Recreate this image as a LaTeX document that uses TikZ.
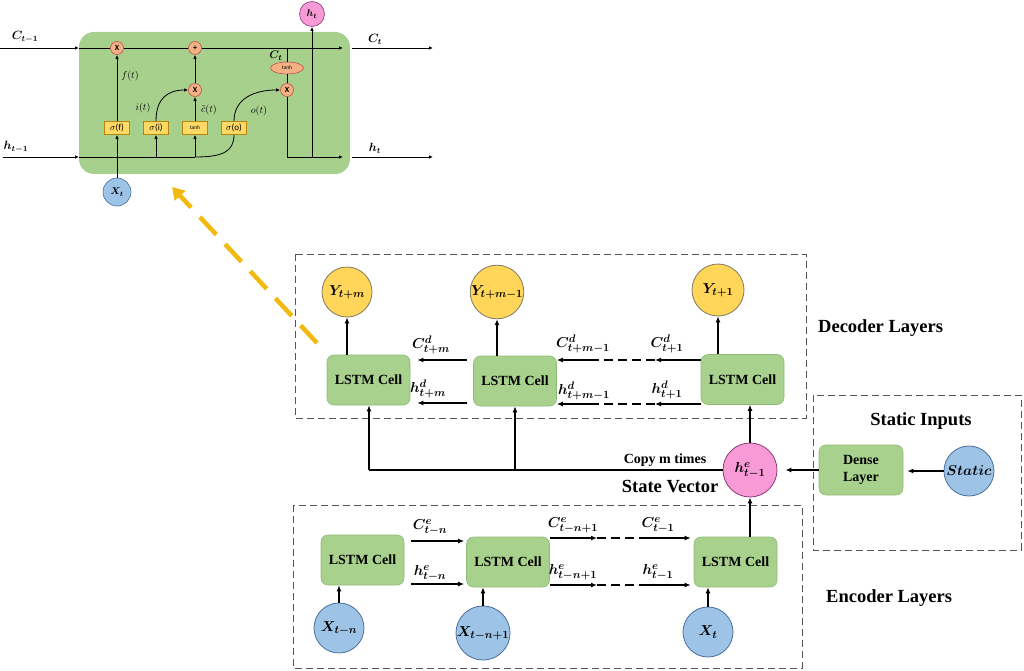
\documentclass[tikz,border=0pt]{standalone}
\usepackage{fontspec}
\usepackage{amsmath,bm}
\setmainfont{Liberation Serif}
\newfontfamily\calfont{Carlito}
\usetikzlibrary{arrows.meta,calc,shapes.geometric}
\definecolor{cellgreen}{HTML}{A9D18E}
\definecolor{cellborder}{HTML}{8DBA72}
\definecolor{topgreen}{HTML}{A8D08D}
\definecolor{yelfill}{HTML}{FFD55A}
\definecolor{yelborder}{HTML}{7F7A5E}
\definecolor{blufill}{HTML}{9DC3E6}
\definecolor{bluborder}{HTML}{4A6F9C}
\definecolor{pinkfill}{HTML}{F79AD6}
\definecolor{pinkborder}{HTML}{8B3A7A}
\definecolor{opfill}{HTML}{F4B183}
\definecolor{opborder}{HTML}{C0504D}
\definecolor{gatefill}{HTML}{FFD966}
\definecolor{gateborder}{HTML}{B8860B}
\definecolor{arrowyel}{HTML}{F2B90F}
\definecolor{dashgray}{HTML}{555555}
\tikzset{
  cell/.style={rounded corners=7pt, fill=cellgreen, draw=cellborder, line width=0.6pt,
    minimum width=83pt, minimum height=50pt, inner sep=0pt,
    font=\fontsize{14}{16}\selectfont\bfseries},
  ycirc/.style={circle, fill=yelfill, draw=yelborder, line width=0.8pt, minimum size=50pt, inner sep=0pt,
    font=\fontsize{15.5}{18}\selectfont},
  bcirc/.style={circle, fill=blufill, draw=bluborder, line width=0.8pt, minimum size=50pt, inner sep=0pt,
    font=\fontsize{15.5}{18}\selectfont},
  pcirc/.style={circle, fill=pinkfill, draw=pinkborder, line width=0.8pt, minimum size=54pt, inner sep=0pt,
    font=\fontsize{15.5}{18}\selectfont},
  arr/.style={-{Latex[length=6pt,width=5pt]}, line width=1.2pt},
  plain/.style={line width=1.2pt},
  dashln/.style={line width=1.2pt, dash pattern=on 9pt off 5pt},
  dbox/.style={draw=dashgray, line width=1pt, dash pattern=on 7pt off 4pt},
  mlabel/.style={font=\fontsize{15}{18}\selectfont, inner sep=0pt},
  title/.style={font=\fontsize{18.5}{22}\selectfont\bfseries, inner sep=0pt},
  topbox/.style={rounded corners=15pt, fill=topgreen, draw=none, minimum width=271pt, minimum height=142pt},
  op/.style={circle, fill=opfill, draw=opborder, line width=0.6pt, minimum size=13pt, inner sep=0pt,
    font=\calfont\fontsize{8}{9}\selectfont\bfseries},
  gate/.style={fill=gatefill, draw=gateborder, line width=0.6pt, minimum width=25pt, minimum height=13pt, inner sep=0pt,
    font=\calfont\fontsize{9}{10}\selectfont},
  tarr/.style={-{Latex[length=4pt,width=3.5pt]}, line width=0.8pt},
  tln/.style={line width=0.8pt},
  slabel/.style={font=\fontsize{12}{14}\selectfont, inner sep=0pt},
  glabel/.style={font=\fontsize{10}{12}\selectfont, inner sep=0pt},
}
\begin{document}
\begin{tikzpicture}[x=1pt,y=-1pt]
\useasboundingbox (0,0) rectangle (1024,671);

% ---------------- top LSTM cell detail ----------------
\node[topbox] (cellbox) at (214.5,103) {};
\node[op] (mx1) at (117,48) {X};
\node[op] (pl) at (195,48) {+};
\node[op] (mx2) at (195,90) {X};
\node[op] (mx3) at (287,90) {X};
\node[ellipse, fill=opfill, draw=opborder, line width=0.6pt, minimum width=33pt, minimum height=12pt, inner sep=0pt,
      font=\calfont\fontsize{5.5}{6}\selectfont] (th2) at (287,68) {tanh};
\node[gate] (gf) at (117,128) {$\sigma$(f)};
\node[gate] (gi) at (156,128) {$\sigma$(i)};
\node[gate, font=\calfont\fontsize{5.5}{6}\selectfont] (gc) at (195,128) {tanh};
\node[gate] (go) at (234,128) {$\sigma$(o)};
\node[circle, fill=blufill, draw=bluborder, line width=0.6pt, minimum size=28pt, inner sep=0pt,
      font=\fontsize{10}{11}\selectfont] (xt) at (117,192) {$\bm{X_t}$};
\node[circle, fill=pinkfill, draw=pinkborder, line width=0.6pt, minimum size=25pt, inner sep=0pt,
      font=\fontsize{10}{11}\selectfont] (ht) at (312,14) {$\bm{h_t}$};

\coordinate (cin) at (0,48);
\coordinate (cbox) at (79,48);
\coordinate (cout) at (343,48);
\coordinate (cn0) at (352,48);
\coordinate (cn1) at (433,48);
\coordinate (hin) at (3,157);
\coordinate (hbox) at (79,157);
\coordinate (hend) at (195,157);
\coordinate (hout) at (343,157);
\coordinate (hn0) at (352,157);
\coordinate (hn1) at (433,157);
\coordinate (ctap) at (287,48);
\coordinate (hcorner) at (287,157);
\coordinate (htap) at (312,157);

\draw[tarr] (cin) -- (cbox);
\draw[tln] (cbox) -- (mx1.west);
\draw[tln] (mx1.east) -- (pl.west);
\draw[tarr] (pl.east) -- (cout);
\draw[tarr] (cn0) -- (cn1);
\draw[tarr] (hin) -- (hbox);
\draw[tln] (hbox) -- (hend);
\draw[tln] (hend) .. controls (222,157) and (234,152) .. (go.south);
\draw[tarr] (hn0) -- (hn1);

\draw[tarr] (xt.north) -- (gf.south);
\draw[tarr] (gf.north) -- (mx1.south);
\draw[tarr] (gi.south |- hbox) -- (gi.south);
\draw[tarr] (gi.north) .. controls (156,98) and (168,90) .. (mx2.west);
\draw[tarr] (gc.south |- hbox) -- (gc.south);
\draw[tarr] (gc.north) -- (mx2.south);
\draw[tarr] (mx2.north) -- (pl.south);
\draw[tarr] (go.north) .. controls (234,98) and (255,90) .. (mx3.west);
\draw[tln] (ctap) -- (th2.north);
\draw[tln] (th2.south) -- (mx3.north);
\draw[tln] (mx3.south) -- (hcorner);
\draw[tarr] (hcorner) -- (hout);
\draw[tarr] (htap) -- (ht.south);

\node[slabel] at (25,37) {$\bm{C_{t-1}}$};
\node[slabel] at (16,147) {$\bm{h_{t-1}}$};
\node[slabel] at (375,39) {$\bm{C_t}$};
\node[slabel] at (375,148) {$\bm{h_t}$};
\node[slabel, font=\fontsize{11}{12}\selectfont] at (276,56) {$\bm{C_t}$};
\node[glabel] at (130,76) {$f(t)$};
\node[glabel] at (143,108) {$i(t)$};
\node[glabel] at (209,110) {$\tilde{c}(t)$};
\node[glabel] at (259,111) {$o(t)$};

% yellow dashed pointer
\coordinate (yp0) at (317,343);
\coordinate (yp1) at (172,187);
\draw[arrowyel, line width=4.5pt, dash pattern=on 24pt off 13pt,
      -{Triangle[length=12pt,width=14pt]}] (yp0) -- (yp1);

% ---------------- decoder ----------------
\draw[dbox] (295,254) rectangle (806,418);
\node[title, anchor=west] at (818,328) {Decoder Layers};

\node[cell] (dc1) at (368.5,380) {LSTM Cell};
\node[cell] (dc2) at (515,381) {LSTM Cell};
\node[cell] (dc3) at (742.5,379.5) {LSTM Cell};
\node[ycirc] (dy1) at (347,292) {$\bm{Y_{t+m}}$};
\node[ycirc] (dy2) at (497,292) {$\bm{Y_{t+m-1}}$};
\node[ycirc, minimum size=52pt] (dy3) at (718,290) {$\bm{Y_{t+1}}$};

\draw[arr] (dy1.south |- dc1.north) -- (dy1.south);
\draw[arr] (dy2.south |- dc2.north) -- (dy2.south);
\draw[arr] (dy3.south |- dc3.north) -- (dy3.south);

% decoder horizontal arrows
\draw[arr, shorten <=6pt, shorten >=7pt] (dc2.west |- 0,360) -- (dc1.east |- 0,360);
\draw[arr, shorten <=6pt, shorten >=7pt] (dc2.west |- 0,403) -- (dc1.east |- 0,403);
\coordinate (dC1) at (655,360);
\coordinate (dC2) at (598,360);
\coordinate (dH1) at (655,404);
\coordinate (dH2) at (598,404);
\draw[arr] (dc3.west |- dC1) -- (dC1);
\draw[dashln] (dC1) -- (dC2);
\draw[arr] (dC2) -- (dc2.east |- dC2);
\draw[arr] (dc3.west |- dH1) -- (dH1);
\draw[dashln] (dH1) -- (dH2);
\draw[arr] (dH2) -- (dc2.east |- dH2);

\node[mlabel] at (431,345) {$\bm{C^d_{t+m}}$};
\node[mlabel] at (428,389) {$\bm{h^d_{t+m}}$};
\node[mlabel] at (583,344) {$\bm{C^d_{t+m-1}}$};
\node[mlabel] at (667,344) {$\bm{C^d_{t+1}}$};
\node[mlabel] at (584,391) {$\bm{h^d_{t+m-1}}$};
\node[mlabel] at (667,390) {$\bm{h^d_{t+1}}$};

% ---------------- state vector ----------------
\node[pcirc] (hs) at (750,470) {$\bm{h^e_{t-1}}$};
\coordinate (sv1) at (369,470);
\coordinate (sv2) at (515,470);
\draw[plain] (hs.west) -- (sv1);
\draw[arr] (sv1) -- (dc1.south -| sv1);
\draw[arr] (sv2) -- (dc2.south -| sv2);
\draw[arr] (hs.north) -- (hs.north |- dc3.south);
\node[font=\fontsize{14}{16}\selectfont\bfseries, inner sep=0pt] at (665,460) {Copy m times};
\node[title] at (670,487) {State Vector};

% ---------------- static inputs ----------------
\draw[dbox] (813,395) rectangle (1021,550);
\node[title] at (921,421) {Static Inputs};
\node[cell, minimum width=84pt, align=center, font=\fontsize{14}{17}\selectfont\bfseries] (dense) at (861,470) {Dense\\Layer};
\node[bcirc] (st) at (969,471) {$\bm{Static}$};
\draw[arr, shorten >=4pt] (st.west) -- (dense.east |- st.west);
\draw[arr, shorten >=8pt] (dense.west) -- (hs.east);

% ---------------- encoder ----------------
\draw[dbox] (293,505) rectangle (802,668);
\node[title, anchor=west] at (826,598) {Encoder Layers};

\node[cell] (ec1) at (362.5,560) {LSTM Cell};
\node[cell] (ec2) at (508,562) {LSTM Cell};
\node[cell] (ec3) at (735.5,562) {LSTM Cell};
\node[bcirc] (ex1) at (339,628) {$\bm{X_{t-n}}$};
\node[bcirc, minimum size=54pt] (ex2) at (483,633) {$\bm{X_{t-n+1}}$};
\node[bcirc] (ex3) at (708,632) {$\bm{X_t}$};

\draw[arr] (ex1.north) -- (ex1.north |- ec1.south);
\draw[arr] (ex2.north) -- (ex2.north |- ec2.south);
\draw[arr] (ex3.north) -- (ex3.north |- ec3.south);
\draw[arr] (hs.south |- ec3.north) -- (hs.south);

\draw[arr, shorten <=7pt, shorten >=2pt] (ec1.east |- 0,541) -- (ec2.west |- 0,541);
\draw[arr, shorten <=7pt, shorten >=2pt] (ec1.east |- 0,584) -- (ec2.west |- 0,584);
\coordinate (eC1) at (597,538);
\coordinate (eC2) at (642,538);
\coordinate (eH1) at (597,585);
\coordinate (eH2) at (642,585);
\draw[arr] (ec2.east |- eC1) -- (eC1);
\draw[dashln] (eC1) -- (eC2);
\draw[arr, shorten >=3pt] (eC2) -- (ec3.west |- eC2);
\draw[arr] (ec2.east |- eH1) -- (eH1);
\draw[dashln] (eH1) -- (eH2);
\draw[arr, shorten >=3pt] (eH2) -- (ec3.west |- eH2);

\node[mlabel] at (430,527) {$\bm{C^e_{t-n}}$};
\node[mlabel] at (430,573) {$\bm{h^e_{t-n}}$};
\node[mlabel] at (573,525) {$\bm{C^e_{t-n+1}}$};
\node[mlabel] at (658,525) {$\bm{C^e_{t-1}}$};
\node[mlabel] at (573,572) {$\bm{h^e_{t-n+1}}$};
\node[mlabel] at (658,572) {$\bm{h^e_{t-1}}$};
\end{tikzpicture}
\end{document}
